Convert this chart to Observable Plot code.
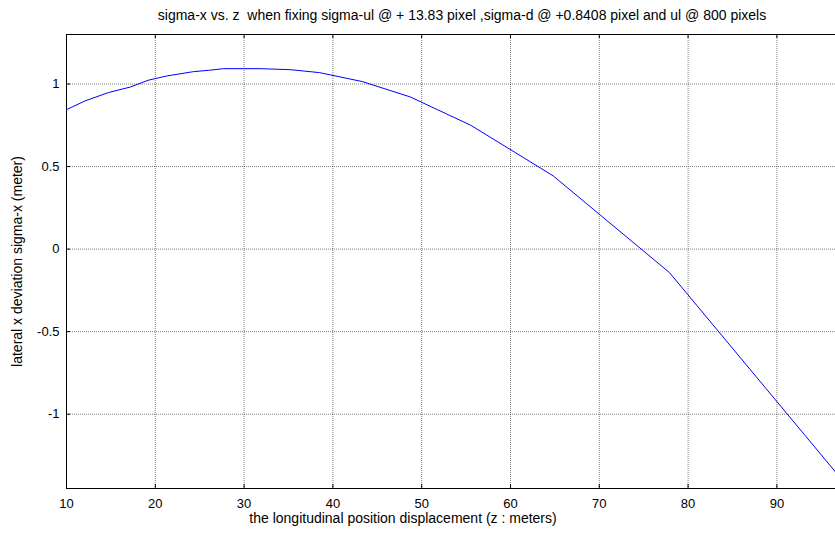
<!DOCTYPE html>
<html>
<head>
<meta charset="utf-8">
<script src="https://cdn.jsdelivr.net/npm/d3@7"></script>
<script src="https://cdn.jsdelivr.net/npm/@observablehq/plot@0.6"></script>
<style>
  html, body { margin: 0; padding: 0; background: #fff; }
  #wrap { width: 835px; height: 533px; position: relative; font-family: "Liberation Sans", Arial, sans-serif; }
  #title { height: 26px; line-height: 30px; font-size: 14px; text-align: center; width: 924px; white-space: nowrap; }
  svg { display: block; }
</style>
</head>
<body>
<div id="wrap">
  <div id="title">sigma-x vs. z&nbsp; when fixing sigma-ul @ + 13.83 pixel ,sigma-d @ +0.8408 pixel and ul @ 800 pixels</div>
  <div id="chart"></div>
</div>
<script>
const zValues = [10, 12.1, 14.7, 17.2, 19.2, 21.3, 24.3, 26.0, 27.7, 31.8, 35.2, 38.5, 43.3, 48.7, 55.5, 64.8, 77.9, 96.6];
const sigmaX  = [0.845, 0.898, 0.948, 0.982, 1.023, 1.049, 1.075, 1.083, 1.093, 1.093, 1.087, 1.069, 1.015, 0.922, 0.751, 0.444, -0.142, -1.35];
const xTicks = [10, 20, 30, 40, 50, 60, 70, 80, 90];
const yTicks = [-1, -0.5, 0, 0.5, 1];
const xDomain = [10, 96.6];
const yDomain = [-1.45, 1.3];
const xLabel = "the longitudinal position displacement (z : meters)";
const yLabel = "lateral x deviation sigma-x (meter)";

const data = zValues.map((z, i) => ({z, s: sigmaX[i]}));

const W = 835, H = 507;
const mL = 66, mR = 0, mT = 8, mB = 45;
const pw = W - mL - mR, ph = H - mT - mB;
const gridStyle = {stroke: "#000", strokeOpacity: 0.5, strokeDasharray: "1,1", strokeWidth: 1};

const chart = Plot.plot({
  width: W, height: H,
  marginLeft: mL, marginRight: mR, marginTop: mT, marginBottom: mB,
  style: {fontFamily: "'Liberation Sans', Arial, sans-serif", fontSize: "13px", color: "#000", background: "#fff"},
  x: {domain: xDomain, ticks: xTicks, label: null},
  y: {domain: yDomain, ticks: yTicks, label: null},
  marks: [
    Plot.gridX(xTicks, gridStyle),
    Plot.gridY(yTicks, gridStyle),
    Plot.axisX(xTicks, {tickSize: 0, tickPadding: 10, tickFormat: d => String(d), fontSize: 13}),
    Plot.axisY(yTicks, {tickSize: 0, tickPadding: 7, tickFormat: d => String(d), fontSize: 13}),
    Plot.tickX(xTicks, {x: d => d, insetTop: ph - 4, stroke: "#000"}),
    Plot.tickX(xTicks, {x: d => d, insetBottom: ph - 4, stroke: "#000"}),
    Plot.tickY(yTicks, {y: d => d, insetRight: pw - 4, stroke: "#000"}),
    Plot.line(data, {x: "z", y: "s", stroke: "#0000ff", strokeWidth: 1, clip: true}),
    Plot.ruleY([yDomain[1]], {stroke: "#000", strokeWidth: 1}),
    Plot.ruleY([yDomain[0]], {stroke: "#000", strokeWidth: 1}),
    Plot.ruleX([xDomain[0]], {stroke: "#000", strokeWidth: 1}),
    Plot.text([xLabel], {text: d => d, frameAnchor: "bottom", textAnchor: "middle", dy: 34, dx: -48, fontSize: 14}),
    Plot.text([yLabel], {text: d => d, frameAnchor: "left", textAnchor: "middle", rotate: -90, dx: -49, dy: 0, fontSize: 14})
  ]
});
document.getElementById("chart").appendChild(chart);
</script>
</body>
</html>
